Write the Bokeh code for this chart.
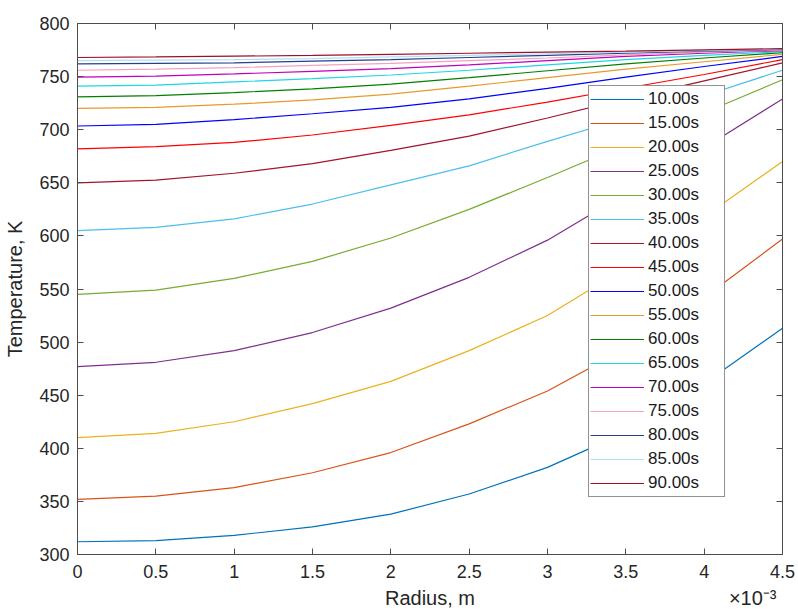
from bokeh.plotting import figure
from bokeh.models import (Range1d, LinearAxis, FixedTicker, CustomJSTickFormatter,
                          Legend, LegendItem)
from bokeh.embed import file_html
from bokeh.resources import INLINE

# ---------------- data ----------------
radius_mm = [0.0, 0.5, 1.0, 1.5, 2.0, 2.5, 3.0, 3.5, 4.0, 4.5]
x_ticks = [0.0, 0.5, 1.0, 1.5, 2.0, 2.5, 3.0, 3.5, 4.0, 4.5]
y_ticks = [300, 350, 400, 450, 500, 550, 600, 650, 700, 750, 800]

labels = ["10.00s", "15.00s", "20.00s", "25.00s", "30.00s", "35.00s", "40.00s",
          "45.00s", "50.00s", "55.00s", "60.00s", "65.00s", "70.00s", "75.00s",
          "80.00s", "85.00s", "90.00s"]

T_10 = [312, 313, 318, 326, 338, 357, 382, 415, 461, 513]
T_15 = [352, 355, 363, 377, 396, 423, 454, 494, 542, 597]
T_20 = [410, 414, 425, 442, 463, 492, 525, 570, 618, 670]
T_25 = [477, 481, 492, 509, 532, 561, 596, 640, 683, 729]
T_30 = [545, 549, 560, 576, 598, 625, 655, 686, 716, 747]
T_35 = [605, 608, 616, 630, 648, 666, 689, 711, 732, 756]
T_40 = [650, 652.5, 659, 668, 680.5, 694, 711, 729, 746, 763]
T_45 = [682, 684, 688, 695, 704, 714, 726, 739, 752, 766]
T_50 = [703.5, 705, 709.5, 715, 721, 729, 739, 749.5, 759.5, 769]
T_55 = [720, 721, 724, 728, 733.5, 741, 749, 757, 764, 771]
T_60 = [731, 732, 735, 738.5, 743, 749, 755.5, 762, 767.5, 772.5]
T_65 = [741, 742, 745, 748, 751.5, 756, 761, 766, 770, 773.5]
T_70 = [749.5, 750.5, 752.5, 755, 757.5, 761, 765, 769, 772, 774.5]
T_75 = [756, 757, 758.5, 760.5, 762.5, 765, 767.5, 770.5, 773, 775]
T_80 = [762, 762.5, 763, 764.5, 766, 768, 770, 772, 774, 775.5]
T_85 = [765, 765.5, 766, 767, 768.5, 770, 771.5, 773, 774.5, 776]
T_90 = [768, 768.5, 769.2, 770, 771, 772, 773, 774, 775.2, 776.3]

colors = ["#0072BD", "#D95319", "#EDB120", "#7E2F8E", "#77AC30", "#4DBEEE", "#A2142F",
          "#FF0000", "#0000FF", "#E69A2E", "#007F00", "#1ED6E6", "#C000C0", "#F4A0C0",
          "#24408E", "#B0E0F0", "#9E0F2A"]

series = [T_10, T_15, T_20, T_25, T_30, T_35, T_40, T_45, T_50, T_55, T_60,
          T_65, T_70, T_75, T_80, T_85, T_90]

x_title = "Radius, m"
x_multiplier = "\u00d710\u207b\u00b3"
y_title = "Temperature, K"

# ---------------- figure ----------------
FONT = "Liberation Sans"
AX = "#4d4d4d"
TXT = "#262626"

p = figure(width=798, height=612, output_backend="svg", toolbar_location=None,
           x_range=Range1d(0, 4.5), y_range=Range1d(300, 800),
           min_border_left=77, min_border_right=16, min_border_top=23,
           min_border_bottom=58)
p.background_fill_color = "white"
p.border_fill_color = "white"
p.xgrid.visible = False
p.ygrid.visible = False
p.outline_line_color = AX
p.outline_line_width = 1

fmt = CustomJSTickFormatter(code="return String(tick);")

for ax in p.xaxis:
    ax.ticker = FixedTicker(ticks=x_ticks)
    ax.formatter = fmt
    ax.axis_label = None
for ax in p.yaxis:
    ax.ticker = FixedTicker(ticks=y_ticks)
    ax.axis_label = y_title

for ax in list(p.xaxis) + list(p.yaxis):
    ax.axis_line_color = AX
    ax.major_tick_line_color = AX
    ax.major_tick_in = 6
    ax.major_tick_out = 0
    ax.minor_tick_line_color = None
    ax.major_label_text_font = FONT
    ax.major_label_text_font_size = "18px"
    ax.major_label_text_color = TXT
    ax.axis_label_text_font = FONT
    ax.axis_label_text_font_size = "20px"
    ax.axis_label_text_font_style = "normal"
    ax.axis_label_text_color = TXT

p.xaxis.major_label_standoff = 10
p.yaxis.major_label_standoff = 8
p.yaxis.axis_label_standoff = 10

# second row under the x axis: axis title (centred) and the x10^-3 multiplier (right)
title_row = LinearAxis(
    ticker=FixedTicker(ticks=[2.25, 4.31]),
    formatter=CustomJSTickFormatter(
        args=dict(t=x_title, m=x_multiplier),
        code="return tick < 3 ? t : m;"),
    axis_line_color=None, major_tick_line_color=None, minor_tick_line_color=None,
    major_tick_in=0, major_tick_out=0, major_label_standoff=6,
    major_label_text_font=FONT, major_label_text_font_size="20px",
    major_label_text_color=TXT)
p.add_layout(title_row, "below")

top = LinearAxis(ticker=FixedTicker(ticks=x_ticks), axis_line_color=AX,
                 major_tick_line_color=AX, major_tick_in=6, major_tick_out=0,
                 minor_tick_line_color=None, major_label_text_font_size="0px",
                 major_label_standoff=0)
right = LinearAxis(ticker=FixedTicker(ticks=y_ticks), axis_line_color=AX,
                   major_tick_line_color=AX, major_tick_in=6, major_tick_out=0,
                   minor_tick_line_color=None, major_label_text_font_size="0px",
                   major_label_standoff=0)
p.add_layout(top, "above")
p.add_layout(right, "right")

items = []
for lab, col, ys in zip(labels, colors, series):
    r = p.line(radius_mm, ys, line_color=col, line_width=1.2)
    items.append(LegendItem(label=lab, renderers=[r]))

legend = Legend(items=items, location=(511, 57), margin=0, padding=1, spacing=0,
                label_height=24, glyph_height=24, glyph_width=54, label_standoff=4,
                label_width=75, label_text_font=FONT, label_text_font_size="17px",
                label_text_color="#1a1a1a", border_line_color="#262626",
                border_line_width=1, background_fill_color="white",
                background_fill_alpha=1.0)
p.add_layout(legend)

open("out.html", "w").write(file_html(p, INLINE))
